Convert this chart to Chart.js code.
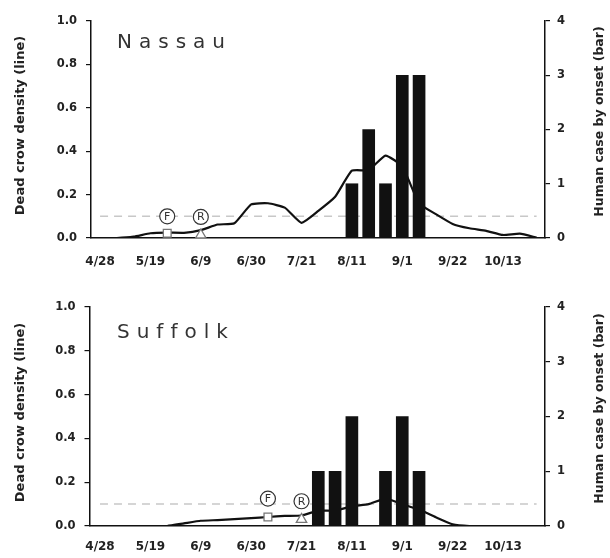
<!DOCTYPE html>
<html>
<head>
<meta charset="utf-8">
<script src="https://cdn.jsdelivr.net/npm/chart.js@4.4.1/dist/chart.umd.min.js"></script>
<style>
  html, body { margin: 0; padding: 0; background: #fff; }
  #wrap { position: relative; width: 610px; height: 558px; overflow: hidden; background: #fff; }
  .panel { position: absolute; left: 0; width: 610px; }
</style>
</head>
<body>
<div id="wrap">
  <div class="panel" style="top:0;height:280px"><canvas id="nassau"></canvas></div>
  <div class="panel" style="top:280px;height:278px"><canvas id="suffolk"></canvas></div>
</div>
<script>
// Weeks counted from 4/28; one tick label every three weeks
const weekTicks = [0, 3, 6, 9, 12, 15, 18, 21, 24];
const weekLabels = ['4/28', '5/19', '6/9', '6/30', '7/21', '8/11', '9/1', '9/22', '10/13'];
const densityTicks = [0, 0.2, 0.4, 0.6, 0.8, 1.0];
const caseTicks = [0, 1, 2, 3, 4];
const threshold = 0.1;

// Nassau: weekly dead crow density (weeks 0..26) and human cases by onset week
const nassauDensity = [0, 0, 0.006, 0.022, 0.025, 0.024, 0.036, 0.062, 0.068, 0.155, 0.16, 0.14, 0.07,
  0.125, 0.19, 0.31, 0.313, 0.38, 0.33, 0.16, 0.11, 0.065, 0.045, 0.033, 0.014, 0.02, 0.002];
const nassauCaseWeeks = [15, 16, 17, 18, 19];
const nassauCases = [1, 2, 1, 3, 3];
const nassauFirst = { week: 4, value: 0.022, label: 0.1 };
const nassauRise = { week: 6, value: 0.014, label: 0.097 };

// Suffolk
const suffolkDensity = [0, 0, 0, 0, 0, 0.012, 0.024, 0.027, 0.031, 0.036, 0.041, 0.046, 0.048,
  0.07, 0.07, 0.09, 0.10, 0.125, 0.10, 0.075, 0.04, 0.008, 0, 0, 0, 0, 0];
const suffolkCaseWeeks = [13, 14, 15, 17, 18, 19];
const suffolkCases = [1, 1, 2, 1, 2, 1];
const suffolkFirst = { week: 10, value: 0.041, label: 0.125 };
const suffolkRise = { week: 12, value: 0.03, label: 0.113 };

const FONT = 'DejaVu Sans';

// Axis titles, county name and the letters inside the F / R circles
const panelText = {
  id: 'panelText',
  afterDatasetsDraw(chart, args, opts) {
    const ctx = chart.ctx;
    chart.data.datasets.forEach((ds, i) => {
      if (!ds.letters) return;
      const meta = chart.getDatasetMeta(i);
      meta.data.forEach((pt, j) => {
        ctx.save();
        ctx.font = '11px "' + FONT + '"';
        ctx.fillStyle = '#333';
        ctx.textAlign = 'center';
        ctx.textBaseline = 'middle';
        ctx.fillText(ds.letters[j], pt.x, pt.y + 0.5);
        ctx.restore();
      });
    });
  },
  afterDraw(chart, args, opts) {
    const ctx = chart.ctx;
    const area = chart.chartArea;
    const midY = (area.top + area.bottom) / 2;
    ctx.save();
    ctx.fillStyle = '#333';
    ctx.font = '20px "' + FONT + '"';
    ctx.letterSpacing = '7px';
    ctx.textAlign = 'left';
    ctx.textBaseline = 'alphabetic';
    ctx.fillText(opts.name, 117, opts.nameY);
    ctx.restore();

    ctx.save();
    ctx.fillStyle = '#222';
    ctx.textAlign = 'center';
    ctx.textBaseline = 'middle';
    ctx.font = 'bold 13px "' + FONT + '"';
    ctx.translate(21, midY - 4);
    ctx.rotate(-Math.PI / 2);
    ctx.fillText('Dead crow density (line)', 0, 0);
    ctx.restore();

    ctx.save();
    ctx.fillStyle = '#222';
    ctx.textAlign = 'center';
    ctx.textBaseline = 'middle';
    ctx.font = 'bold 12.5px "' + FONT + '"';
    ctx.translate(600, midY - 8);
    ctx.rotate(-Math.PI / 2);
    ctx.fillText('Human case by onset (bar)', 0, 0);
    ctx.restore();
  }
};

function makePanel(id, cfg) {
  const canvasH = cfg.height;
  return new Chart(document.getElementById(id), {
    type: 'bar',
    data: {
      datasets: [
        {
          type: 'bar',
          data: cfg.caseWeeks.map((w, i) => ({ x: w, y: cfg.cases[i] })),
          yAxisID: 'y1',
          backgroundColor: '#111',
          barThickness: 12,
          order: 2
        },
        {
          type: 'line',
          data: cfg.density.map((v, i) => ({ x: i, y: v })),
          yAxisID: 'y',
          borderColor: '#111',
          borderWidth: 2.2,
          pointRadius: 0,
          tension: 0.15,
          order: 3
        },
        {
          type: 'line',
          data: [{ x: 0, y: threshold }, { x: cfg.density.length - 1, y: threshold }],
          yAxisID: 'y',
          borderColor: '#c8c8c8',
          borderDash: [8, 6],
          borderWidth: 1.5,
          pointRadius: 0,
          order: 4
        },
        {
          type: 'line',
          data: [{ x: cfg.first.week, y: cfg.first.value }],
          yAxisID: 'y',
          showLine: false,
          pointStyle: 'rect',
          pointRadius: 5.5,
          pointBackgroundColor: '#fff',
          pointBorderColor: '#777',
          pointBorderWidth: 1.3,
          order: 1
        },
        {
          type: 'line',
          data: [{ x: cfg.rise.week, y: cfg.rise.value }],
          yAxisID: 'y',
          showLine: false,
          pointStyle: 'triangle',
          pointRadius: 6,
          pointBackgroundColor: '#fff',
          pointBorderColor: '#777',
          pointBorderWidth: 1.3,
          order: 1
        },
        {
          type: 'line',
          data: [{ x: cfg.first.week, y: cfg.first.label }, { x: cfg.rise.week, y: cfg.rise.label }],
          letters: ['F', 'R'],
          yAxisID: 'y',
          showLine: false,
          pointStyle: 'circle',
          pointRadius: 7.5,
          pointBackgroundColor: '#fff',
          pointBorderColor: '#333',
          pointBorderWidth: 1.2,
          order: 0
        }
      ]
    },
    options: {
      responsive: true,
      maintainAspectRatio: false,
      animation: false,
      events: [],
      layout: { padding: { top: cfg.top, left: 0, right: 0, bottom: 0 } },
      plugins: {
        legend: { display: false },
        tooltip: { enabled: false },
        panelText: { name: cfg.name, nameY: cfg.nameY }
      },
      scales: {
        x: {
          type: 'linear',
          min: cfg.xMin,
          max: 26.5,
          offset: false,
          afterBuildTicks: s => { s.ticks = weekTicks.map(v => ({ value: v })); },
          afterFit: s => { s.height = canvasH - cfg.bottom; },
          ticks: {
            callback: v => weekLabels[weekTicks.indexOf(v)],
            font: { family: FONT, weight: 'bold', size: 12 },
            color: '#222',
            padding: cfg.xPad,
            maxRotation: 0,
            autoSkip: false
          },
          grid: { display: false, drawTicks: false },
          border: { display: true, color: '#111', width: 1.5 }
        },
        y: {
          position: 'left',
          min: 0,
          max: 1,
          afterBuildTicks: s => { s.ticks = densityTicks.map(v => ({ value: v })); },
          afterFit: s => { s.width = cfg.left; },
          ticks: {
            callback: v => v.toFixed(1),
            font: { family: FONT, weight: 'bold', size: 11.5 },
            color: '#222',
            padding: 9
          },
          grid: { drawOnChartArea: false, drawTicks: true, tickLength: 5, color: '#111', lineWidth: 1.2 },
          border: { display: true, color: '#111', width: 1.5 }
        },
        y1: {
          position: 'right',
          min: 0,
          max: 4,
          afterBuildTicks: s => { s.ticks = caseTicks.map(v => ({ value: v })); },
          afterFit: s => { s.width = 610 - 545; },
          ticks: {
            callback: v => String(v),
            font: { family: FONT, weight: 'bold', size: 11.5 },
            color: '#222',
            padding: 7
          },
          grid: { drawOnChartArea: false, drawTicks: true, tickLength: 5, color: '#111', lineWidth: 1.2 },
          border: { display: true, color: '#111', width: 1.5 }
        }
      }
    },
    plugins: [panelText]
  });
}

makePanel('nassau', {
  name: 'Nassau', nameY: 48, height: 280, top: 21, bottom: 238, left: 91, xMin: -0.54, xPad: 17,
  density: nassauDensity, caseWeeks: nassauCaseWeeks, cases: nassauCases,
  first: nassauFirst, rise: nassauRise
});

makePanel('suffolk', {
  name: 'Suffolk', nameY: 58, height: 278, top: 27, bottom: 246, left: 89.5, xMin: -0.625, xPad: 14,
  density: suffolkDensity, caseWeeks: suffolkCaseWeeks, cases: suffolkCases,
  first: suffolkFirst, rise: suffolkRise
});
</script>
</body>
</html>
